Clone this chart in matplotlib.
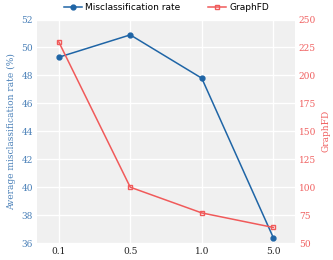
import numpy as np
import matplotlib
matplotlib.use('Agg')
import matplotlib.pyplot as plt

# data
lambdas = ['0.1', '0.5', '1.0', '5.0']
misclass = [49.3, 50.9, 47.8, 36.4]
graphfd = [230, 100, 77, 64]

blue = '#1f65a6'
red = '#f05a5a'

fig, ax = plt.subplots(figsize=(3.33, 2.6), dpi=100)
fig.subplots_adjust(left=0.112, right=0.885, top=0.925, bottom=0.065)
ax.set_facecolor('#f0f0f0')
x = np.arange(len(lambdas))

l1, = ax.plot(x, misclass, color=blue, marker='o', ms=3.5, lw=1.1, label='Misclassification rate', zorder=3)
ax.set_ylim(36, 52)
ax.set_yticks(np.arange(36, 53, 2))
ax.set_xlim(-0.3, 3.3)
ax.set_xticks(x)
ax.set_xticklabels(lambdas)
ax.grid(True, color='white', lw=1.0)
ax.set_axisbelow(True)
for s in ax.spines.values():
    s.set_visible(False)
ax.tick_params(length=0, labelsize=6.5, pad=3)
ax.tick_params(axis='y', colors='#4a80b8')
ax.tick_params(axis='x', colors='#222222')
for t in ax.get_xticklabels() + ax.get_yticklabels():
    t.set_family('DejaVu Serif')
ax.set_ylabel('Average misclassification rate (%)', color='#4a80b8', fontsize=6.5, family='DejaVu Serif', labelpad=4)

ax2 = ax.twinx()
l2, = ax2.plot(x, graphfd, color=red, marker='s', ms=3.5, mfc='none', mew=1.0, lw=1.1, label='GraphFD', zorder=3)
ax2.set_ylim(50, 250)
ax2.set_yticks(np.arange(50, 251, 25))
for s in ax2.spines.values():
    s.set_visible(False)
ax2.tick_params(length=0, labelsize=6.5, colors='#f06060', pad=3)
for t in ax2.get_yticklabels():
    t.set_family('DejaVu Serif')
ax2.set_ylabel('GraphFD', color='#f06060', fontsize=6.5, family='DejaVu Serif', labelpad=4)

fig.legend([l1, l2], ['Misclassification rate', 'GraphFD'], loc='upper center',
           bbox_to_anchor=(0.5, 1.02), ncol=2, frameon=False, fontsize=6.5,
           columnspacing=3.0, handlelength=2.0, handletextpad=0.4)

fig.savefig('out.png', dpi=100)
